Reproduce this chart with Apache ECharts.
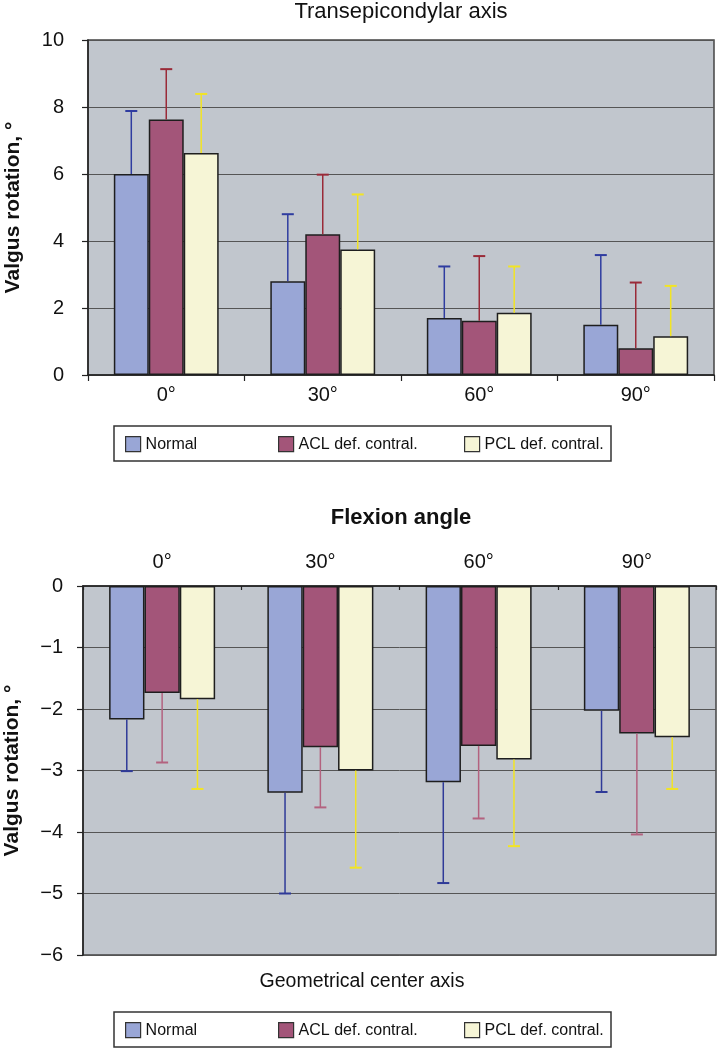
<!DOCTYPE html>
<html>
<head>
<meta charset="utf-8">
<script src="https://cdn.jsdelivr.net/npm/echarts@6/dist/echarts.min.js"></script>
<style>
html,body{margin:0;padding:0;background:#fff;}
#chart{width:718px;height:1050px;}
</style>
</head>
<body>
<div id="chart"></div>
<script>
// ---- Data ----
const categories = ['0°', '30°', '60°', '90°'];
const seriesNames = ['Normal', 'ACL def. contral.', 'PCL def. contral.'];

// Top chart: Transepicondylar axis (mean, SD)
const topNormal = [6.0, 2.8, 1.7, 1.5];
const topACL = [7.63, 4.2, 1.62, 0.8];
const topPCL = [6.63, 3.75, 1.86, 1.16];
const topNormalSD = [1.88, 2.0, 1.54, 2.08];
const topACLSD = [1.5, 1.78, 1.93, 1.96];
const topPCLSD = [1.76, 1.64, 1.38, 1.5];

// Bottom chart: Geometrical center axis (mean, SD)
const botNormal = [-2.17, -3.36, -3.19, -2.03];
const botACL = [-1.74, -2.62, -2.6, -2.4];
const botPCL = [-1.84, -3.0, -2.82, -2.46];
const botNormalSD = [0.84, 1.64, 1.64, 1.32];
const botACLSD = [1.13, 0.98, 1.18, 1.64];
const botPCLSD = [1.46, 1.58, 1.41, 0.84];

const topTicks = [0, 2, 4, 6, 8, 10];
const botTicks = [0, -1, -2, -3, -4, -5, -6];

// ---- Styles ----
const FONT = "'Liberation Sans', Arial, Helvetica, sans-serif";
const barColors = ['#99a6d6', '#a35579', '#f6f5d6'];
const topErrColors = ['#2f3ca0', '#9a2a38', '#f2e424'];
const botErrColors = ['#2f3a98', '#b3627f', '#f2e424'];
const GAP = 0.33;

function errRender(pos, color) {
  return function (params, api) {
    const x = api.value(0), v = api.value(1), e = api.value(2);
    const p0 = api.coord([x, v]);
    const p1 = api.coord([x, e]);
    const band = api.size([1, 0])[0];
    const bw = band * (1 - GAP) / 3;
    const cx = p0[0] + (pos - 1) * bw;
    const cap = 6;
    return {
      type: 'group',
      children: [
        { type: 'line', shape: { x1: cx, y1: p0[1], x2: cx, y2: p1[1] }, style: { stroke: color, lineWidth: 1.5 } },
        { type: 'line', shape: { x1: cx - cap, y1: p1[1], x2: cx + cap, y2: p1[1] }, style: { stroke: color, lineWidth: 2 } }
      ]
    };
  };
}

function barSeries(name, data, idx, axisIdx) {
  return {
    name: name, type: 'bar', data: data,
    xAxisIndex: axisIdx, yAxisIndex: axisIdx,
    barGap: '0%', barCategoryGap: (GAP * 100) + '%',
    itemStyle: { color: barColors[idx], borderColor: '#1e1e1e', borderWidth: 1.5 },
    z: 2
  };
}

function errSeries(name, vals, sds, sign, idx, axisIdx, colors) {
  const data = vals.map((v, i) => [i, v, v + sign * sds[i]]);
  return {
    name: name + ' SD', type: 'custom', data: data,
    xAxisIndex: axisIdx, yAxisIndex: axisIdx,
    renderItem: errRender(idx, colors[idx]),
    z: 3, silent: true
  };
}

const chart = echarts.init(document.getElementById('chart'), null, { renderer: 'canvas' });

// one legend per item so each sits where the reference places it
const legendLefts = [125, 278, 464];
function makeLegends(top) {
  return seriesNames.map((n, i) => ({
    orient: 'horizontal',
    left: legendLefts[i],
    top: top,
    padding: 0,
    itemWidth: 15, itemHeight: 15,
    icon: 'rect',
    itemStyle: { borderColor: '#333', borderWidth: 1.2 },
    textStyle: { fontFamily: FONT, fontSize: 16, color: '#111' },
    data: [n]
  }));
}

const yCommon = {
  type: 'value',
  nameLocation: 'middle',
  nameRotate: 90,
  nameTextStyle: { fontFamily: FONT, fontSize: 21, fontWeight: 'bold', color: '#111' },
  axisLine: { show: true, lineStyle: { color: '#222', width: 1.5 } },
  axisTick: { show: true, length: 6, lineStyle: { color: '#222', width: 1.2 } },
  splitLine: { show: true, lineStyle: { color: '#555', width: 1 } }
};

const option = {
  animation: false,
  backgroundColor: '#ffffff',
  textStyle: { fontFamily: FONT },
  graphic: [
    { type: 'text', x: 401, y: 12, style: { text: 'Transepicondylar axis', fontFamily: FONT, fontSize: 22, fill: '#111', textAlign: 'center', textVerticalAlign: 'middle' } },
    { type: 'text', x: 401, y: 518, style: { text: 'Flexion angle', fontFamily: FONT, fontSize: 22, fontWeight: 'bold', fill: '#111', textAlign: 'center', textVerticalAlign: 'middle' } },
    { type: 'text', x: 362, y: 982, style: { text: 'Geometrical center axis', fontFamily: FONT, fontSize: 19.5, fill: '#111', textAlign: 'center', textVerticalAlign: 'middle' } },
    { type: 'rect', shape: { x: 114, y: 426, width: 497, height: 35 }, style: { fill: 'none', stroke: '#333', lineWidth: 1.5 }, z: -1 },
    { type: 'rect', shape: { x: 114, y: 1012, width: 497, height: 35 }, style: { fill: 'none', stroke: '#333', lineWidth: 1.5 }, z: -1 }
  ],
  legend: makeLegends(436).concat(makeLegends(1022)),
  grid: [
    { left: 88, right: 4, top: 40, height: 335, show: true, backgroundColor: '#c1c6cd', borderColor: '#444', borderWidth: 1.5, containLabel: false, outerBoundsMode: 'none' },
    { left: 83, right: 2, top: 586, height: 369, show: true, backgroundColor: '#c1c6cd', borderColor: '#444', borderWidth: 1.5, containLabel: false, outerBoundsMode: 'none' }
  ],
  xAxis: [
    {
      type: 'category', gridIndex: 0, data: categories, position: 'bottom',
      axisLine: { show: true, lineStyle: { color: '#222', width: 1.5 } },
      axisTick: { show: true, length: 6, alignWithLabel: false, lineStyle: { color: '#222', width: 1.2 } },
      axisLabel: { fontFamily: FONT, fontSize: 20, color: '#111', margin: 10 }
    },
    {
      type: 'category', gridIndex: 1, data: categories, position: 'top',
      axisLine: { show: true, lineStyle: { color: '#222', width: 1.5 } },
      axisTick: { show: true, inside: true, length: 4, lineStyle: { color: '#222', width: 1.2 } },
      axisLabel: { fontFamily: FONT, fontSize: 20, color: '#111', margin: 14 }
    }
  ],
  yAxis: [
    Object.assign({}, yCommon, {
      gridIndex: 0, min: topTicks[0], max: topTicks[topTicks.length - 1], interval: 2,
      name: 'Valgus rotation, °', nameGap: 64,
      axisLabel: { fontFamily: FONT, fontSize: 20, color: '#111', margin: 24 }
    }),
    Object.assign({}, yCommon, {
      gridIndex: 1, min: botTicks[botTicks.length - 1], max: botTicks[0], interval: 1,
      name: 'Valgus rotation, °', nameGap: 60,
      axisLabel: {
        fontFamily: FONT, fontSize: 20, color: '#111', margin: 20,
        formatter: v => (v < 0 ? '\u2212' + Math.abs(v) : String(v))
      }
    })
  ],
  series: [
    barSeries(seriesNames[0], topNormal, 0, 0),
    barSeries(seriesNames[1], topACL, 1, 0),
    barSeries(seriesNames[2], topPCL, 2, 0),
    errSeries(seriesNames[0], topNormal, topNormalSD, 1, 0, 0, topErrColors),
    errSeries(seriesNames[1], topACL, topACLSD, 1, 1, 0, topErrColors),
    errSeries(seriesNames[2], topPCL, topPCLSD, 1, 2, 0, topErrColors),
    barSeries(seriesNames[0], botNormal, 0, 1),
    barSeries(seriesNames[1], botACL, 1, 1),
    barSeries(seriesNames[2], botPCL, 2, 1),
    errSeries(seriesNames[0], botNormal, botNormalSD, -1, 0, 1, botErrColors),
    errSeries(seriesNames[1], botACL, botACLSD, -1, 1, 1, botErrColors),
    errSeries(seriesNames[2], botPCL, botPCLSD, -1, 2, 1, botErrColors)
  ]
};

chart.setOption(option);
</script>
</body>
</html>
